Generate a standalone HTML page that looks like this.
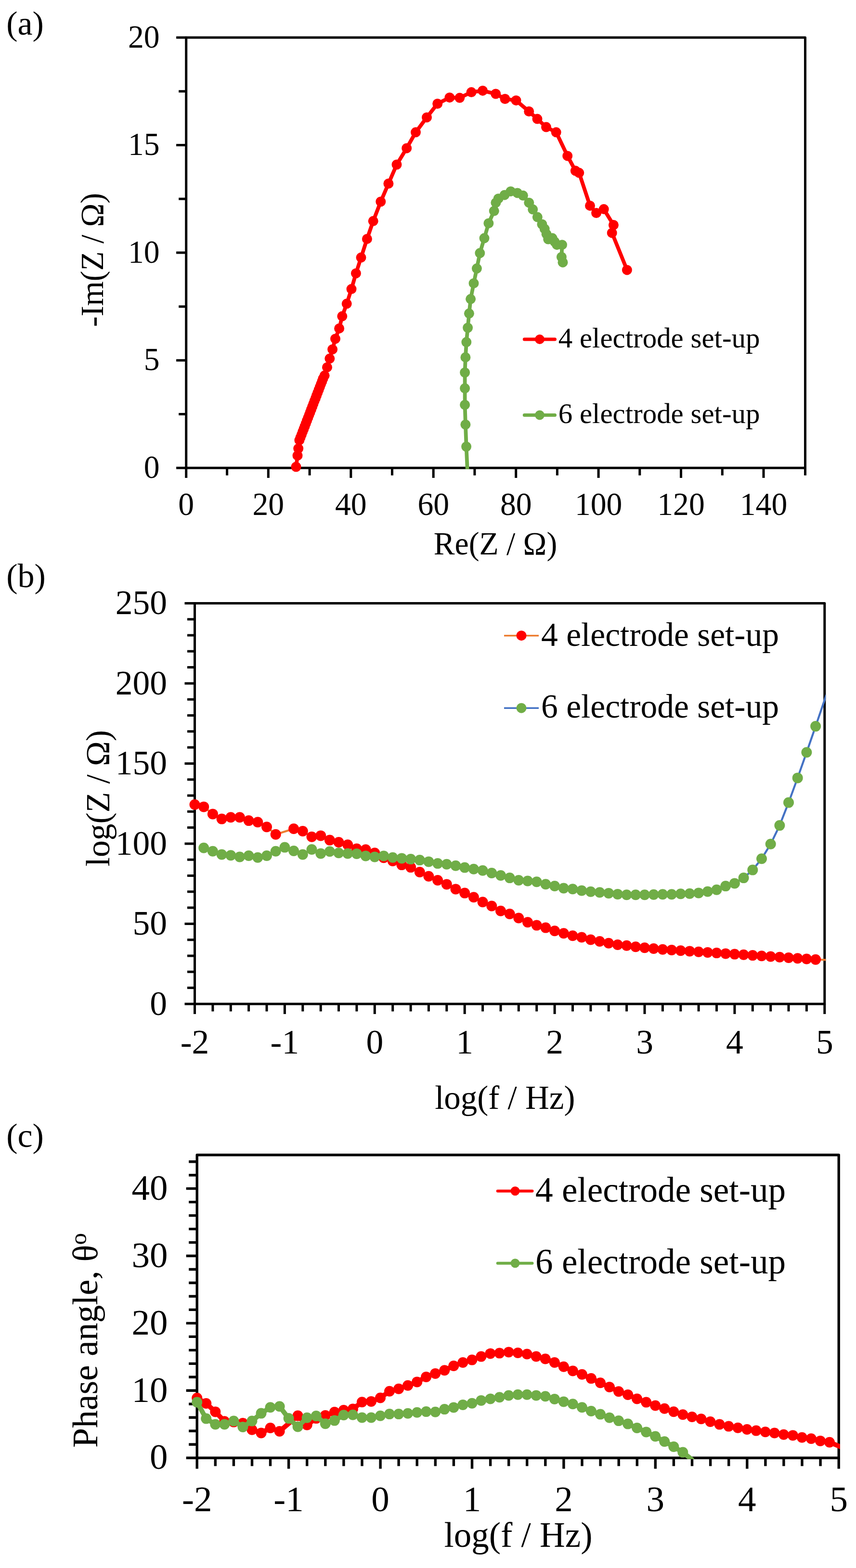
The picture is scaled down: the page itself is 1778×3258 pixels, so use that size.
<!DOCTYPE html>
<html lang="en">
<head>
<meta charset="utf-8">
<title>Impedance spectra: 4 vs 6 electrode set-up</title>
<style>
html,body{margin:0;padding:0;background:#fff}
body{width:1778px;height:3258px;overflow:hidden}
svg{display:block}
text{font-family:"Liberation Serif",serif;fill:#000}
</style>
</head>
<body>
<svg width="1778" height="3258" viewBox="0 0 1778 3258">
<rect width="1778" height="3258" fill="#fff"/>
<defs>
<clipPath id="ca"><rect x="384.2" y="75.4" width="1290.8" height="899.4"/></clipPath>
<clipPath id="cb"><rect x="402" y="1250.9" width="1313.3" height="837.5"/></clipPath>
<clipPath id="cc"><rect x="406.6" y="2397.1" width="1338.2" height="634.7"/></clipPath>
</defs>
<g id="chart-a">
<polyline points="386.7,972.3 386.7,77.9 1672.5,77.9 1672.5,972.3 386.7,972.3" fill="none" stroke="#000" stroke-width="5" stroke-linejoin="round"/>
<path d="M371.2,860.5H386.7M371.2,636.9H386.7M371.2,413.3H386.7M371.2,189.7H386.7M366.1,972.3H386.7M366.1,748.7H386.7M366.1,525.1H386.7M366.1,301.5H386.7M366.1,77.9H386.7M471.6,972.3V987.8M643.1,972.3V987.8M814.5,972.3V987.8M985.9,972.3V987.8M1157.4,972.3V987.8M1328.8,972.3V987.8M1500.3,972.3V987.8M1672.5,972.3V987.8M386.7,972.3V992.9M557.3,972.3V992.9M728.8,972.3V992.9M900.2,972.3V992.9M1071.7,972.3V992.9M1243.1,972.3V992.9M1414.5,972.3V992.9M1586,972.3V992.9" fill="none" stroke="#000" stroke-width="5"/>
<text transform="translate(331.5 992.9) scale(0.965 1)" font-size="68" text-anchor="end">0</text>
<text transform="translate(331.5 769.3) scale(0.965 1)" font-size="68" text-anchor="end">5</text>
<text transform="translate(331.5 545.7) scale(0.965 1)" font-size="68" text-anchor="end">10</text>
<text transform="translate(331.5 322.1) scale(0.965 1)" font-size="68" text-anchor="end">15</text>
<text transform="translate(331.5 98.5) scale(0.965 1)" font-size="68" text-anchor="end">20</text>
<text transform="translate(386.7 1069.6) scale(0.965 1)" font-size="68" text-anchor="middle">0</text>
<text transform="translate(557.3 1069.6) scale(0.965 1)" font-size="68" text-anchor="middle">20</text>
<text transform="translate(728.8 1069.6) scale(0.965 1)" font-size="68" text-anchor="middle">40</text>
<text transform="translate(900.2 1069.6) scale(0.965 1)" font-size="68" text-anchor="middle">60</text>
<text transform="translate(1071.7 1069.6) scale(0.965 1)" font-size="68" text-anchor="middle">80</text>
<text transform="translate(1243.1 1069.6) scale(0.965 1)" font-size="68" text-anchor="middle">100</text>
<text transform="translate(1414.5 1069.6) scale(0.965 1)" font-size="68" text-anchor="middle">120</text>
<text transform="translate(1586 1069.6) scale(0.965 1)" font-size="68" text-anchor="middle">140</text>
<text transform="translate(1029 1152) scale(0.965 1)" font-size="68" text-anchor="middle">Re(Z / Ω)</text>
<text transform="translate(214 540) rotate(-90) scale(0.965 1)" font-size="68" text-anchor="middle">-Im(Z / Ω)</text>
<text x="13.2" y="71.7" font-size="70" text-anchor="start">(a)</text>
<polyline points="615,970 618,946.7 619.7,931.8 621.9,914.7 624.1,908.9 626.4,903.1 628.6,897.2 630.8,891.4 633.1,885.6 635.3,879.8 637.5,874 639.8,868.2 642,862.3 644.2,856.5 646.5,850.7 648.7,844.9 650.9,839.1 653.1,833.2 655.4,827.4 657.6,821.6 659.8,815.8 662.1,810 664.3,804.2 666.5,798.3 668.8,792.5 671,786.7 674.1,780.3 679.5,763.2 684.8,745.1 690.6,725.9 696.5,703.9 704.6,682.4 710.8,657.1 720.2,631.1 730,600.6 739.4,567.9 750,535.1 762.4,496.4 775.2,459.3 790.8,419 806.9,381.5 824,342 844.7,307.9 863.5,274.8 886.5,243.9 908.7,215.5 933.9,202.7 954.8,203.3 979.1,191.6 1002.6,188.4 1029.7,195 1049,205.5 1072,208.7 1098.7,231.5 1116,247.1 1134.5,264.1 1155.2,274.8 1178.7,323.9 1195.3,354.8 1202.8,359.1 1225.5,427.4 1238.6,442.6 1254.2,434.6 1274.4,467.5 1271.2,483.9 1302.4,560.9" fill="none" stroke="#FF0000" stroke-width="7.8" stroke-linejoin="round" stroke-linecap="round" clip-path="url(#ca)"/>
<g fill="#FF0000"><circle cx="615" cy="970" r="10.5"/><circle cx="618" cy="946.7" r="10.5"/><circle cx="619.7" cy="931.8" r="10.5"/><circle cx="621.9" cy="914.7" r="10.5"/><circle cx="624.1" cy="908.9" r="10.5"/><circle cx="626.4" cy="903.1" r="10.5"/><circle cx="628.6" cy="897.2" r="10.5"/><circle cx="630.8" cy="891.4" r="10.5"/><circle cx="633.1" cy="885.6" r="10.5"/><circle cx="635.3" cy="879.8" r="10.5"/><circle cx="637.5" cy="874" r="10.5"/><circle cx="639.8" cy="868.2" r="10.5"/><circle cx="642" cy="862.3" r="10.5"/><circle cx="644.2" cy="856.5" r="10.5"/><circle cx="646.5" cy="850.7" r="10.5"/><circle cx="648.7" cy="844.9" r="10.5"/><circle cx="650.9" cy="839.1" r="10.5"/><circle cx="653.1" cy="833.2" r="10.5"/><circle cx="655.4" cy="827.4" r="10.5"/><circle cx="657.6" cy="821.6" r="10.5"/><circle cx="659.8" cy="815.8" r="10.5"/><circle cx="662.1" cy="810" r="10.5"/><circle cx="664.3" cy="804.2" r="10.5"/><circle cx="666.5" cy="798.3" r="10.5"/><circle cx="668.8" cy="792.5" r="10.5"/><circle cx="671" cy="786.7" r="10.5"/><circle cx="674.1" cy="780.3" r="10.5"/><circle cx="679.5" cy="763.2" r="10.5"/><circle cx="684.8" cy="745.1" r="10.5"/><circle cx="690.6" cy="725.9" r="10.5"/><circle cx="696.5" cy="703.9" r="10.5"/><circle cx="704.6" cy="682.4" r="10.5"/><circle cx="710.8" cy="657.1" r="10.5"/><circle cx="720.2" cy="631.1" r="10.5"/><circle cx="730" cy="600.6" r="10.5"/><circle cx="739.4" cy="567.9" r="10.5"/><circle cx="750" cy="535.1" r="10.5"/><circle cx="762.4" cy="496.4" r="10.5"/><circle cx="775.2" cy="459.3" r="10.5"/><circle cx="790.8" cy="419" r="10.5"/><circle cx="806.9" cy="381.5" r="10.5"/><circle cx="824" cy="342" r="10.5"/><circle cx="844.7" cy="307.9" r="10.5"/><circle cx="863.5" cy="274.8" r="10.5"/><circle cx="886.5" cy="243.9" r="10.5"/><circle cx="908.7" cy="215.5" r="10.5"/><circle cx="933.9" cy="202.7" r="10.5"/><circle cx="954.8" cy="203.3" r="10.5"/><circle cx="979.1" cy="191.6" r="10.5"/><circle cx="1002.6" cy="188.4" r="10.5"/><circle cx="1029.7" cy="195" r="10.5"/><circle cx="1049" cy="205.5" r="10.5"/><circle cx="1072" cy="208.7" r="10.5"/><circle cx="1098.7" cy="231.5" r="10.5"/><circle cx="1116" cy="247.1" r="10.5"/><circle cx="1134.5" cy="264.1" r="10.5"/><circle cx="1155.2" cy="274.8" r="10.5"/><circle cx="1178.7" cy="323.9" r="10.5"/><circle cx="1195.3" cy="354.8" r="10.5"/><circle cx="1202.8" cy="359.1" r="10.5"/><circle cx="1225.5" cy="427.4" r="10.5"/><circle cx="1238.6" cy="442.6" r="10.5"/><circle cx="1254.2" cy="434.6" r="10.5"/><circle cx="1274.4" cy="467.5" r="10.5"/><circle cx="1271.2" cy="483.9" r="10.5"/><circle cx="1302.4" cy="560.9" r="10.5"/></g>
<polyline points="971.2,985 968.6,928 966.9,882.2 965.6,841.2 965.6,806.8 965.6,774 966.9,742.4 968.8,710.8 971.6,681 974.4,651.3 977.6,621.3 984,588.7 990.4,557.8 996.8,525.8 1006,494.8 1014.9,463.9 1026.3,438.3 1029.9,421.2 1035.2,412.7 1048,405.2 1060.8,397.7 1074.7,400.9 1086.4,406.3 1098.8,421.2 1106.7,435.1 1116.3,451.1 1125.9,466 1131.2,475.6 1135.1,486.3 1138.7,497 1147.2,494.8 1152.1,502.3 1156.8,508.7 1167.5,508.7 1166.4,534 1169,545.2" fill="none" stroke="#70AD47" stroke-width="7.8" stroke-linejoin="round" stroke-linecap="round" clip-path="url(#ca)"/>
<g fill="#70AD47"><circle cx="968.6" cy="928" r="10.5"/><circle cx="966.9" cy="882.2" r="10.5"/><circle cx="965.6" cy="841.2" r="10.5"/><circle cx="965.6" cy="806.8" r="10.5"/><circle cx="965.6" cy="774" r="10.5"/><circle cx="966.9" cy="742.4" r="10.5"/><circle cx="968.8" cy="710.8" r="10.5"/><circle cx="971.6" cy="681" r="10.5"/><circle cx="974.4" cy="651.3" r="10.5"/><circle cx="977.6" cy="621.3" r="10.5"/><circle cx="984" cy="588.7" r="10.5"/><circle cx="990.4" cy="557.8" r="10.5"/><circle cx="996.8" cy="525.8" r="10.5"/><circle cx="1006" cy="494.8" r="10.5"/><circle cx="1014.9" cy="463.9" r="10.5"/><circle cx="1026.3" cy="438.3" r="10.5"/><circle cx="1029.9" cy="421.2" r="10.5"/><circle cx="1035.2" cy="412.7" r="10.5"/><circle cx="1048" cy="405.2" r="10.5"/><circle cx="1060.8" cy="397.7" r="10.5"/><circle cx="1074.7" cy="400.9" r="10.5"/><circle cx="1086.4" cy="406.3" r="10.5"/><circle cx="1098.8" cy="421.2" r="10.5"/><circle cx="1106.7" cy="435.1" r="10.5"/><circle cx="1116.3" cy="451.1" r="10.5"/><circle cx="1125.9" cy="466" r="10.5"/><circle cx="1131.2" cy="475.6" r="10.5"/><circle cx="1135.1" cy="486.3" r="10.5"/><circle cx="1138.7" cy="497" r="10.5"/><circle cx="1147.2" cy="494.8" r="10.5"/><circle cx="1152.1" cy="502.3" r="10.5"/><circle cx="1156.8" cy="508.7" r="10.5"/><circle cx="1167.5" cy="508.7" r="10.5"/><circle cx="1166.4" cy="534" r="10.5"/><circle cx="1169" cy="545.2" r="10.5"/></g>
<line x1="1089.3" y1="705" x2="1152.5" y2="705" stroke="#FF0000" stroke-width="7" stroke-linecap="round"/>
<circle cx="1121" cy="705" r="10" fill="#FF0000"/>
<text x="1159.8" y="721.9" font-size="58.9" text-anchor="start">4 electrode set-up</text>
<line x1="1089.3" y1="862.5" x2="1152.5" y2="862.5" stroke="#70AD47" stroke-width="7" stroke-linecap="round"/>
<circle cx="1121" cy="862.5" r="10" fill="#70AD47"/>
<text x="1159.8" y="879" font-size="58.9" text-anchor="start">6 electrode set-up</text>
</g>
<g id="chart-b">
<polyline points="404.5,2085.9 404.5,1253.4 1712.8,1253.4 1712.8,2085.9 404.5,2085.9" fill="none" stroke="#000" stroke-width="5" stroke-linejoin="round"/>
<path d="M389,2052.6H404.5M389,2019.3H404.5M389,1986H404.5M389,1952.7H404.5M389,1886.1H404.5M389,1852.8H404.5M389,1819.5H404.5M389,1786.2H404.5M389,1719.6H404.5M389,1686.3H404.5M389,1653H404.5M389,1619.7H404.5M389,1553.1H404.5M389,1519.8H404.5M389,1486.5H404.5M389,1453.2H404.5M389,1386.6H404.5M389,1353.3H404.5M389,1320H404.5M389,1286.7H404.5M383.5,2085.9H404.5M383.5,1919.4H404.5M383.5,1752.9H404.5M383.5,1586.4H404.5M383.5,1419.9H404.5M383.5,1253.4H404.5M441.9,2085.9V2101.4M479.3,2085.9V2101.4M516.6,2085.9V2101.4M554,2085.9V2101.4M628.8,2085.9V2101.4M666.2,2085.9V2101.4M703.5,2085.9V2101.4M740.9,2085.9V2101.4M815.7,2085.9V2101.4M853.1,2085.9V2101.4M890.4,2085.9V2101.4M927.8,2085.9V2101.4M1002.6,2085.9V2101.4M1040,2085.9V2101.4M1077.3,2085.9V2101.4M1114.7,2085.9V2101.4M1189.5,2085.9V2101.4M1226.9,2085.9V2101.4M1264.2,2085.9V2101.4M1301.6,2085.9V2101.4M1376.4,2085.9V2101.4M1413.8,2085.9V2101.4M1451.1,2085.9V2101.4M1488.5,2085.9V2101.4M1563.3,2085.9V2101.4M1600.7,2085.9V2101.4M1638,2085.9V2101.4M1675.4,2085.9V2101.4M404.5,2085.9V2106.9M591.4,2085.9V2106.9M778.3,2085.9V2106.9M965.2,2085.9V2106.9M1152.1,2085.9V2106.9M1339,2085.9V2106.9M1525.9,2085.9V2106.9M1712.8,2085.9V2106.9" fill="none" stroke="#000" stroke-width="5"/>
<text x="347" y="2108.8" font-size="71.5" text-anchor="end">0</text>
<text x="347" y="1942.3" font-size="71.5" text-anchor="end">50</text>
<text x="347" y="1775.8" font-size="71.5" text-anchor="end">100</text>
<text x="347" y="1609.3" font-size="71.5" text-anchor="end">150</text>
<text x="347" y="1442.8" font-size="71.5" text-anchor="end">200</text>
<text x="347" y="1276.3" font-size="71.5" text-anchor="end">250</text>
<text x="404.5" y="2188.6" font-size="71.5" text-anchor="middle">-2</text>
<text x="591.4" y="2188.6" font-size="71.5" text-anchor="middle">-1</text>
<text x="778.3" y="2188.6" font-size="71.5" text-anchor="middle">0</text>
<text x="965.2" y="2188.6" font-size="71.5" text-anchor="middle">1</text>
<text x="1152.1" y="2188.6" font-size="71.5" text-anchor="middle">2</text>
<text x="1339" y="2188.6" font-size="71.5" text-anchor="middle">3</text>
<text x="1525.9" y="2188.6" font-size="71.5" text-anchor="middle">4</text>
<text x="1712.8" y="2188.6" font-size="71.5" text-anchor="middle">5</text>
<text x="1048.8" y="2303.5" font-size="69" text-anchor="middle">log(f / Hz)</text>
<text transform="translate(227.4 1658.6) rotate(-90)" font-size="69.6" text-anchor="middle">log(Z / Ω)</text>
<text x="13.2" y="1220.4" font-size="70" text-anchor="start">(b)</text>
<polyline points="404.5,1671.7 423.2,1676.4 441.9,1691.4 460.6,1701.6 479.3,1698.3 497.9,1698.3 516.6,1705.1 535.3,1708.3 554,1718.2 572.7,1733.7 610.1,1722 628.8,1727 647.5,1738.7 666.2,1736.4 684.9,1745.6 703.5,1750 722.2,1755.2 740.9,1763.5 759.6,1765.2 778.3,1772.2 797,1782.2 815.7,1788.9 834.4,1797.1 853.1,1802.1 871.8,1812 890.4,1820.7 909.1,1829 927.8,1837.4 946.5,1847.4 965.2,1855.6 983.9,1864.3 1002.6,1874.3 1021.3,1882.5 1040,1892.7 1058.7,1899 1077.3,1907.5 1096,1916.2 1114.7,1922.6 1133.4,1927.6 1152.1,1934.3 1170.8,1939.3 1189.5,1944.3 1208.2,1947.5 1226.9,1952.5 1245.6,1956 1264.2,1959.7 1282.9,1963 1301.6,1964.7 1320.3,1967.2 1339,1969.2 1357.7,1971 1376.4,1972.7 1395.1,1974 1413.8,1975.2 1432.5,1976.4 1451.1,1977.7 1469.8,1978.9 1488.5,1980.1 1507.2,1981.4 1525.9,1982.6 1544.6,1983.8 1563.3,1985.1 1582,1986.3 1600.7,1987.5 1619.4,1988.8 1638,1990 1656.7,1991.2 1675.4,1992.5 1694.1,1993.7 1716,1994.5" fill="none" stroke="#ED7D31" stroke-width="4.2" stroke-linejoin="round" stroke-linecap="round" clip-path="url(#cb)"/>
<g fill="#FF0000"><circle cx="404.5" cy="1671.7" r="11"/><circle cx="423.2" cy="1676.4" r="11"/><circle cx="441.9" cy="1691.4" r="11"/><circle cx="460.6" cy="1701.6" r="11"/><circle cx="479.3" cy="1698.3" r="11"/><circle cx="497.9" cy="1698.3" r="11"/><circle cx="516.6" cy="1705.1" r="11"/><circle cx="535.3" cy="1708.3" r="11"/><circle cx="554" cy="1718.2" r="11"/><circle cx="572.7" cy="1733.7" r="11"/><circle cx="610.1" cy="1722" r="11"/><circle cx="628.8" cy="1727" r="11"/><circle cx="647.5" cy="1738.7" r="11"/><circle cx="666.2" cy="1736.4" r="11"/><circle cx="684.9" cy="1745.6" r="11"/><circle cx="703.5" cy="1750" r="11"/><circle cx="722.2" cy="1755.2" r="11"/><circle cx="740.9" cy="1763.5" r="11"/><circle cx="759.6" cy="1765.2" r="11"/><circle cx="778.3" cy="1772.2" r="11"/><circle cx="797" cy="1782.2" r="11"/><circle cx="815.7" cy="1788.9" r="11"/><circle cx="834.4" cy="1797.1" r="11"/><circle cx="853.1" cy="1802.1" r="11"/><circle cx="871.8" cy="1812" r="11"/><circle cx="890.4" cy="1820.7" r="11"/><circle cx="909.1" cy="1829" r="11"/><circle cx="927.8" cy="1837.4" r="11"/><circle cx="946.5" cy="1847.4" r="11"/><circle cx="965.2" cy="1855.6" r="11"/><circle cx="983.9" cy="1864.3" r="11"/><circle cx="1002.6" cy="1874.3" r="11"/><circle cx="1021.3" cy="1882.5" r="11"/><circle cx="1040" cy="1892.7" r="11"/><circle cx="1058.7" cy="1899" r="11"/><circle cx="1077.3" cy="1907.5" r="11"/><circle cx="1096" cy="1916.2" r="11"/><circle cx="1114.7" cy="1922.6" r="11"/><circle cx="1133.4" cy="1927.6" r="11"/><circle cx="1152.1" cy="1934.3" r="11"/><circle cx="1170.8" cy="1939.3" r="11"/><circle cx="1189.5" cy="1944.3" r="11"/><circle cx="1208.2" cy="1947.5" r="11"/><circle cx="1226.9" cy="1952.5" r="11"/><circle cx="1245.6" cy="1956" r="11"/><circle cx="1264.2" cy="1959.7" r="11"/><circle cx="1282.9" cy="1963" r="11"/><circle cx="1301.6" cy="1964.7" r="11"/><circle cx="1320.3" cy="1967.2" r="11"/><circle cx="1339" cy="1969.2" r="11"/><circle cx="1357.7" cy="1971" r="11"/><circle cx="1376.4" cy="1972.7" r="11"/><circle cx="1395.1" cy="1974" r="11"/><circle cx="1413.8" cy="1975.2" r="11"/><circle cx="1432.5" cy="1976.4" r="11"/><circle cx="1451.1" cy="1977.7" r="11"/><circle cx="1469.8" cy="1978.9" r="11"/><circle cx="1488.5" cy="1980.1" r="11"/><circle cx="1507.2" cy="1981.4" r="11"/><circle cx="1525.9" cy="1982.6" r="11"/><circle cx="1544.6" cy="1983.8" r="11"/><circle cx="1563.3" cy="1985.1" r="11"/><circle cx="1582" cy="1986.3" r="11"/><circle cx="1600.7" cy="1987.5" r="11"/><circle cx="1619.4" cy="1988.8" r="11"/><circle cx="1638" cy="1990" r="11"/><circle cx="1656.7" cy="1991.2" r="11"/><circle cx="1675.4" cy="1992.5" r="11"/><circle cx="1694.1" cy="1993.7" r="11"/></g>
<polyline points="423.2,1761.8 441.9,1768.8 460.6,1775.5 479.3,1777.2 497.9,1780.5 516.6,1778 535.3,1781.7 554,1778 572.7,1768.8 591.4,1760.6 610.1,1768 628.8,1775.5 647.5,1765 666.2,1773.5 684.9,1769.3 703.5,1772.3 722.2,1773.4 740.9,1773.9 759.6,1778.4 778.3,1780.4 797,1778.4 815.7,1781.7 834.4,1783.4 853.1,1785.1 871.8,1787.1 890.4,1790.4 909.1,1794.1 927.8,1795.8 946.5,1798.8 965.2,1802.6 983.9,1805.8 1002.6,1808.8 1021.3,1814 1040,1819 1058.7,1824.1 1077.3,1829 1096,1830.5 1114.7,1832.3 1133.4,1837.3 1152.1,1841 1170.8,1845.5 1189.5,1847.2 1208.2,1850.5 1226.9,1852.7 1245.6,1854.2 1264.2,1855.9 1282.9,1857.9 1301.6,1859.2 1320.3,1859.2 1339,1859.2 1357.7,1858.7 1376.4,1858.2 1395.1,1858.2 1413.8,1857.3 1432.5,1856.8 1451.1,1855.4 1469.8,1852.5 1488.5,1848.8 1507.2,1841.1 1525.9,1835.4 1544.6,1824.1 1563.3,1807.6 1582,1784.2 1600.7,1753.8 1619.4,1715.1 1638,1667.6 1656.7,1616.4 1675.4,1563.2 1694.1,1509.1 1716,1445" fill="none" stroke="#4472C4" stroke-width="4.2" stroke-linejoin="round" stroke-linecap="round" clip-path="url(#cb)"/>
<g fill="#70AD47"><circle cx="423.2" cy="1761.8" r="11"/><circle cx="441.9" cy="1768.8" r="11"/><circle cx="460.6" cy="1775.5" r="11"/><circle cx="479.3" cy="1777.2" r="11"/><circle cx="497.9" cy="1780.5" r="11"/><circle cx="516.6" cy="1778" r="11"/><circle cx="535.3" cy="1781.7" r="11"/><circle cx="554" cy="1778" r="11"/><circle cx="572.7" cy="1768.8" r="11"/><circle cx="591.4" cy="1760.6" r="11"/><circle cx="610.1" cy="1768" r="11"/><circle cx="628.8" cy="1775.5" r="11"/><circle cx="647.5" cy="1765" r="11"/><circle cx="666.2" cy="1773.5" r="11"/><circle cx="684.9" cy="1769.3" r="11"/><circle cx="703.5" cy="1772.3" r="11"/><circle cx="722.2" cy="1773.4" r="11"/><circle cx="740.9" cy="1773.9" r="11"/><circle cx="759.6" cy="1778.4" r="11"/><circle cx="778.3" cy="1780.4" r="11"/><circle cx="797" cy="1778.4" r="11"/><circle cx="815.7" cy="1781.7" r="11"/><circle cx="834.4" cy="1783.4" r="11"/><circle cx="853.1" cy="1785.1" r="11"/><circle cx="871.8" cy="1787.1" r="11"/><circle cx="890.4" cy="1790.4" r="11"/><circle cx="909.1" cy="1794.1" r="11"/><circle cx="927.8" cy="1795.8" r="11"/><circle cx="946.5" cy="1798.8" r="11"/><circle cx="965.2" cy="1802.6" r="11"/><circle cx="983.9" cy="1805.8" r="11"/><circle cx="1002.6" cy="1808.8" r="11"/><circle cx="1021.3" cy="1814" r="11"/><circle cx="1040" cy="1819" r="11"/><circle cx="1058.7" cy="1824.1" r="11"/><circle cx="1077.3" cy="1829" r="11"/><circle cx="1096" cy="1830.5" r="11"/><circle cx="1114.7" cy="1832.3" r="11"/><circle cx="1133.4" cy="1837.3" r="11"/><circle cx="1152.1" cy="1841" r="11"/><circle cx="1170.8" cy="1845.5" r="11"/><circle cx="1189.5" cy="1847.2" r="11"/><circle cx="1208.2" cy="1850.5" r="11"/><circle cx="1226.9" cy="1852.7" r="11"/><circle cx="1245.6" cy="1854.2" r="11"/><circle cx="1264.2" cy="1855.9" r="11"/><circle cx="1282.9" cy="1857.9" r="11"/><circle cx="1301.6" cy="1859.2" r="11"/><circle cx="1320.3" cy="1859.2" r="11"/><circle cx="1339" cy="1859.2" r="11"/><circle cx="1357.7" cy="1858.7" r="11"/><circle cx="1376.4" cy="1858.2" r="11"/><circle cx="1395.1" cy="1858.2" r="11"/><circle cx="1413.8" cy="1857.3" r="11"/><circle cx="1432.5" cy="1856.8" r="11"/><circle cx="1451.1" cy="1855.4" r="11"/><circle cx="1469.8" cy="1852.5" r="11"/><circle cx="1488.5" cy="1848.8" r="11"/><circle cx="1507.2" cy="1841.1" r="11"/><circle cx="1525.9" cy="1835.4" r="11"/><circle cx="1544.6" cy="1824.1" r="11"/><circle cx="1563.3" cy="1807.6" r="11"/><circle cx="1582" cy="1784.2" r="11"/><circle cx="1600.7" cy="1753.8" r="11"/><circle cx="1619.4" cy="1715.1" r="11"/><circle cx="1638" cy="1667.6" r="11"/><circle cx="1656.7" cy="1616.4" r="11"/><circle cx="1675.4" cy="1563.2" r="11"/><circle cx="1694.1" cy="1509.1" r="11"/></g>
<line x1="1047" y1="1320.7" x2="1119" y2="1320.7" stroke="#ED7D31" stroke-width="3.6"/>
<circle cx="1083" cy="1320.7" r="10.5" fill="#FF0000"/>
<text x="1124" y="1342.2" font-size="69.5" text-anchor="start">4 electrode set-up</text>
<line x1="1047" y1="1471.2" x2="1119" y2="1471.2" stroke="#4472C4" stroke-width="3.6"/>
<circle cx="1083" cy="1471.2" r="10.5" fill="#70AD47"/>
<text x="1124" y="1490.7" font-size="69.5" text-anchor="start">6 electrode set-up</text>
</g>
<g id="chart-c">
<polyline points="409.2,3029.2 409.2,2399.7 1742.2,2399.7 1742.2,3029.2 409.2,3029.2" fill="none" stroke="#000" stroke-width="5.4" stroke-linejoin="round"/>
<path d="M392.2,3001.2H409.2M392.2,2973.2H409.2M392.2,2945.3H409.2M392.2,2917.3H409.2M392.2,2861.3H409.2M392.2,2833.4H409.2M392.2,2805.4H409.2M392.2,2777.4H409.2M392.2,2721.4H409.2M392.2,2693.5H409.2M392.2,2665.5H409.2M392.2,2637.5H409.2M392.2,2581.6H409.2M392.2,2553.6H409.2M392.2,2525.6H409.2M392.2,2497.6H409.2M392.2,2441.7H409.2M392.2,2413.7H409.2M386.7,3029.2H409.2M386.7,2889.3H409.2M386.7,2749.4H409.2M386.7,2609.5H409.2M386.7,2469.6H409.2M447.3,3029.2V3046.2M485.4,3029.2V3046.2M523.5,3029.2V3046.2M561.5,3029.2V3046.2M637.7,3029.2V3046.2M675.8,3029.2V3046.2M713.9,3029.2V3046.2M752,3029.2V3046.2M828.1,3029.2V3046.2M866.2,3029.2V3046.2M904.3,3029.2V3046.2M942.4,3029.2V3046.2M1018.6,3029.2V3046.2M1056.7,3029.2V3046.2M1094.7,3029.2V3046.2M1132.8,3029.2V3046.2M1209,3029.2V3046.2M1247.1,3029.2V3046.2M1285.2,3029.2V3046.2M1323.3,3029.2V3046.2M1399.4,3029.2V3046.2M1437.5,3029.2V3046.2M1475.6,3029.2V3046.2M1513.7,3029.2V3046.2M1589.9,3029.2V3046.2M1627.9,3029.2V3046.2M1666,3029.2V3046.2M1704.1,3029.2V3046.2M409.2,3029.2V3051.7M599.6,3029.2V3051.7M790.1,3029.2V3051.7M980.5,3029.2V3051.7M1170.9,3029.2V3051.7M1361.3,3029.2V3051.7M1551.8,3029.2V3051.7M1742.2,3029.2V3051.7" fill="none" stroke="#000" stroke-width="5.4"/>
<text x="348.5" y="3052.4" font-size="75" text-anchor="end">0</text>
<text x="348.5" y="2912.5" font-size="75" text-anchor="end">10</text>
<text x="348.5" y="2772.6" font-size="75" text-anchor="end">20</text>
<text x="348.5" y="2632.7" font-size="75" text-anchor="end">30</text>
<text x="348.5" y="2492.8" font-size="75" text-anchor="end">40</text>
<text x="409.2" y="3139.6" font-size="75" text-anchor="middle">-2</text>
<text x="599.6" y="3139.6" font-size="75" text-anchor="middle">-1</text>
<text x="790.1" y="3139.6" font-size="75" text-anchor="middle">0</text>
<text x="980.5" y="3139.6" font-size="75" text-anchor="middle">1</text>
<text x="1170.9" y="3139.6" font-size="75" text-anchor="middle">2</text>
<text x="1361.3" y="3139.6" font-size="75" text-anchor="middle">3</text>
<text x="1551.8" y="3139.6" font-size="75" text-anchor="middle">4</text>
<text x="1742.2" y="3139.6" font-size="75" text-anchor="middle">5</text>
<text x="1076.5" y="3214.3" font-size="73" text-anchor="middle">log(f / Hz)</text>
<text transform="translate(202 2785) rotate(-90)" font-size="73.6" text-anchor="middle">Phase angle, θ<tspan font-size="49" dy="-23">o</tspan></text>
<text x="13.2" y="2382.7" font-size="70" text-anchor="start">(c)</text>
<polyline points="409.2,2904.8 428.2,2916 447.3,2933.4 466.3,2953.3 485.4,2954.6 504.4,2957 523.4,2970.7 542.5,2977.5 561.5,2967 580.6,2974 618.6,2941.6 637.7,2960.8 656.7,2947.1 675.8,2940.9 694.8,2934.1 713.8,2930 732.9,2927.6 751.9,2913.2 771,2911.9 790,2904.5 809,2890.8 828.1,2885.8 847.1,2878.8 866.2,2871.4 885.2,2860.9 904.2,2853.9 923.3,2847.2 942.3,2838 961.4,2831 980.4,2825.6 999.4,2818.6 1018.5,2812.4 1037.5,2811.6 1056.6,2809.4 1075.6,2811 1094.6,2813.5 1113.7,2818.5 1132.7,2823.5 1151.8,2830.9 1170.8,2839.7 1189.8,2848.4 1208.9,2855.8 1227.9,2864.1 1247,2873.3 1266,2882 1285,2891.2 1304.1,2897.9 1323.1,2906.5 1342.2,2913.6 1361.2,2920.5 1380.2,2926.8 1399.3,2933.3 1418.3,2939.3 1437.4,2944 1456.4,2948.3 1475.4,2954 1494.5,2959.6 1513.5,2963.6 1532.6,2966.8 1551.6,2970 1570.6,2972.6 1589.7,2975.3 1608.7,2977.5 1627.8,2980.7 1646.8,2982.4 1665.8,2986.7 1684.9,2989.2 1703.9,2993.9 1723,2996.7 1746,3006.2" fill="none" stroke="#FF0000" stroke-width="10" stroke-linejoin="round" stroke-linecap="round" clip-path="url(#cc)"/>
<g fill="#FF0000"><circle cx="409.2" cy="2904.8" r="11"/><circle cx="428.2" cy="2916" r="11"/><circle cx="447.3" cy="2933.4" r="11"/><circle cx="466.3" cy="2953.3" r="11"/><circle cx="485.4" cy="2954.6" r="11"/><circle cx="504.4" cy="2957" r="11"/><circle cx="523.4" cy="2970.7" r="11"/><circle cx="542.5" cy="2977.5" r="11"/><circle cx="561.5" cy="2967" r="11"/><circle cx="580.6" cy="2974" r="11"/><circle cx="618.6" cy="2941.6" r="11"/><circle cx="637.7" cy="2960.8" r="11"/><circle cx="656.7" cy="2947.1" r="11"/><circle cx="675.8" cy="2940.9" r="11"/><circle cx="694.8" cy="2934.1" r="11"/><circle cx="713.8" cy="2930" r="11"/><circle cx="732.9" cy="2927.6" r="11"/><circle cx="751.9" cy="2913.2" r="11"/><circle cx="771" cy="2911.9" r="11"/><circle cx="790" cy="2904.5" r="11"/><circle cx="809" cy="2890.8" r="11"/><circle cx="828.1" cy="2885.8" r="11"/><circle cx="847.1" cy="2878.8" r="11"/><circle cx="866.2" cy="2871.4" r="11"/><circle cx="885.2" cy="2860.9" r="11"/><circle cx="904.2" cy="2853.9" r="11"/><circle cx="923.3" cy="2847.2" r="11"/><circle cx="942.3" cy="2838" r="11"/><circle cx="961.4" cy="2831" r="11"/><circle cx="980.4" cy="2825.6" r="11"/><circle cx="999.4" cy="2818.6" r="11"/><circle cx="1018.5" cy="2812.4" r="11"/><circle cx="1037.5" cy="2811.6" r="11"/><circle cx="1056.6" cy="2809.4" r="11"/><circle cx="1075.6" cy="2811" r="11"/><circle cx="1094.6" cy="2813.5" r="11"/><circle cx="1113.7" cy="2818.5" r="11"/><circle cx="1132.7" cy="2823.5" r="11"/><circle cx="1151.8" cy="2830.9" r="11"/><circle cx="1170.8" cy="2839.7" r="11"/><circle cx="1189.8" cy="2848.4" r="11"/><circle cx="1208.9" cy="2855.8" r="11"/><circle cx="1227.9" cy="2864.1" r="11"/><circle cx="1247" cy="2873.3" r="11"/><circle cx="1266" cy="2882" r="11"/><circle cx="1285" cy="2891.2" r="11"/><circle cx="1304.1" cy="2897.9" r="11"/><circle cx="1323.1" cy="2906.5" r="11"/><circle cx="1342.2" cy="2913.6" r="11"/><circle cx="1361.2" cy="2920.5" r="11"/><circle cx="1380.2" cy="2926.8" r="11"/><circle cx="1399.3" cy="2933.3" r="11"/><circle cx="1418.3" cy="2939.3" r="11"/><circle cx="1437.4" cy="2944" r="11"/><circle cx="1456.4" cy="2948.3" r="11"/><circle cx="1475.4" cy="2954" r="11"/><circle cx="1494.5" cy="2959.6" r="11"/><circle cx="1513.5" cy="2963.6" r="11"/><circle cx="1532.6" cy="2966.8" r="11"/><circle cx="1551.6" cy="2970" r="11"/><circle cx="1570.6" cy="2972.6" r="11"/><circle cx="1589.7" cy="2975.3" r="11"/><circle cx="1608.7" cy="2977.5" r="11"/><circle cx="1627.8" cy="2980.7" r="11"/><circle cx="1646.8" cy="2982.4" r="11"/><circle cx="1665.8" cy="2986.7" r="11"/><circle cx="1684.9" cy="2989.2" r="11"/><circle cx="1703.9" cy="2993.9" r="11"/><circle cx="1723" cy="2996.7" r="11"/></g>
<polyline points="409.2,2913.5 428.2,2947.6 447.3,2959.5 466.3,2959.5 485.4,2952.6 504.4,2965 523.4,2952.6 542.5,2936.6 561.5,2924.2 580.6,2922.2 599.6,2947.1 618.6,2964.5 637.7,2945.8 656.7,2942.1 675.8,2958.3 694.8,2951.6 713.8,2940.3 732.9,2939.7 751.9,2945.5 771,2945.5 790,2941.8 809,2938.1 828.1,2938.1 847.1,2936.8 866.2,2934.8 885.2,2933.1 904.2,2933.8 923.3,2928.1 942.3,2924.4 961.4,2918.9 980.4,2915.7 999.4,2909.9 1018.5,2906.5 1037.5,2903.2 1056.6,2899.5 1075.6,2897.7 1094.6,2897.7 1113.7,2899.4 1132.7,2901.2 1151.8,2906.9 1170.8,2912.4 1189.8,2917.3 1208.9,2924.3 1227.9,2932 1247,2938.6 1266,2945.8 1285,2952.1 1304.1,2958.6 1323.1,2967 1342.2,2975.4 1361.2,2984.5 1380.2,2995.2 1399.3,3005.9 1418.3,3017.6 1437.4,3033" fill="none" stroke="#70AD47" stroke-width="10" stroke-linejoin="round" stroke-linecap="round" clip-path="url(#cc)"/>
<g fill="#70AD47"><circle cx="409.2" cy="2913.5" r="11"/><circle cx="428.2" cy="2947.6" r="11"/><circle cx="447.3" cy="2959.5" r="11"/><circle cx="466.3" cy="2959.5" r="11"/><circle cx="485.4" cy="2952.6" r="11"/><circle cx="504.4" cy="2965" r="11"/><circle cx="523.4" cy="2952.6" r="11"/><circle cx="542.5" cy="2936.6" r="11"/><circle cx="561.5" cy="2924.2" r="11"/><circle cx="580.6" cy="2922.2" r="11"/><circle cx="599.6" cy="2947.1" r="11"/><circle cx="618.6" cy="2964.5" r="11"/><circle cx="637.7" cy="2945.8" r="11"/><circle cx="656.7" cy="2942.1" r="11"/><circle cx="675.8" cy="2958.3" r="11"/><circle cx="694.8" cy="2951.6" r="11"/><circle cx="713.8" cy="2940.3" r="11"/><circle cx="732.9" cy="2939.7" r="11"/><circle cx="751.9" cy="2945.5" r="11"/><circle cx="771" cy="2945.5" r="11"/><circle cx="790" cy="2941.8" r="11"/><circle cx="809" cy="2938.1" r="11"/><circle cx="828.1" cy="2938.1" r="11"/><circle cx="847.1" cy="2936.8" r="11"/><circle cx="866.2" cy="2934.8" r="11"/><circle cx="885.2" cy="2933.1" r="11"/><circle cx="904.2" cy="2933.8" r="11"/><circle cx="923.3" cy="2928.1" r="11"/><circle cx="942.3" cy="2924.4" r="11"/><circle cx="961.4" cy="2918.9" r="11"/><circle cx="980.4" cy="2915.7" r="11"/><circle cx="999.4" cy="2909.9" r="11"/><circle cx="1018.5" cy="2906.5" r="11"/><circle cx="1037.5" cy="2903.2" r="11"/><circle cx="1056.6" cy="2899.5" r="11"/><circle cx="1075.6" cy="2897.7" r="11"/><circle cx="1094.6" cy="2897.7" r="11"/><circle cx="1113.7" cy="2899.4" r="11"/><circle cx="1132.7" cy="2901.2" r="11"/><circle cx="1151.8" cy="2906.9" r="11"/><circle cx="1170.8" cy="2912.4" r="11"/><circle cx="1189.8" cy="2917.3" r="11"/><circle cx="1208.9" cy="2924.3" r="11"/><circle cx="1227.9" cy="2932" r="11"/><circle cx="1247" cy="2938.6" r="11"/><circle cx="1266" cy="2945.8" r="11"/><circle cx="1285" cy="2952.1" r="11"/><circle cx="1304.1" cy="2958.6" r="11"/><circle cx="1323.1" cy="2967" r="11"/><circle cx="1342.2" cy="2975.4" r="11"/><circle cx="1361.2" cy="2984.5" r="11"/><circle cx="1380.2" cy="2995.2" r="11"/><circle cx="1399.3" cy="3005.9" r="11"/><circle cx="1418.3" cy="3017.6" r="11"/></g>
<line x1="1033.7" y1="2474.7" x2="1105.5" y2="2474.7" stroke="#FF0000" stroke-width="6" stroke-linecap="round"/>
<circle cx="1070" cy="2474.7" r="9.5" fill="#FF0000"/>
<text x="1112" y="2496.7" font-size="73.2" text-anchor="start">4 electrode set-up</text>
<line x1="1033.7" y1="2624.8" x2="1105.5" y2="2624.8" stroke="#70AD47" stroke-width="6" stroke-linecap="round"/>
<circle cx="1070" cy="2624.8" r="9.5" fill="#70AD47"/>
<text x="1112" y="2646.3" font-size="73.2" text-anchor="start">6 electrode set-up</text>
</g>
</svg>
</body>
</html>
